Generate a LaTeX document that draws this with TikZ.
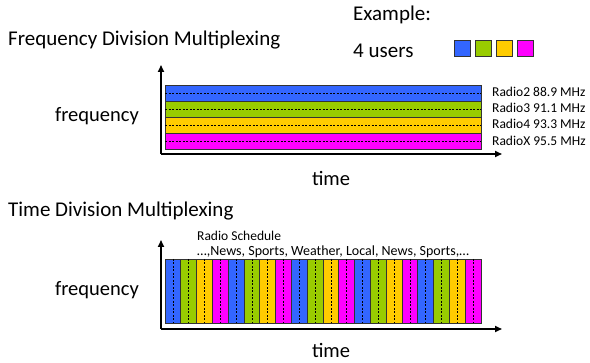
\documentclass[tikz,border=0pt]{standalone}
\usepackage{fontspec}
\setmainfont{Carlito}
\usetikzlibrary{arrows.meta,calc,positioning}
\definecolor{userblue}{RGB}{51,102,255}
\definecolor{usergreen}{RGB}{153,204,0}
\definecolor{useryellow}{RGB}{255,204,0}
\definecolor{usermagenta}{RGB}{255,0,255}
\tikzset{
  band/.style={draw=black!80,line width=0.8pt},
  midline/.style={line width=0.6pt,dash pattern=on 2pt off 1.5pt},
  axis/.style={line width=1.6pt,-{Triangle[length=7pt,width=6pt]}},
  title/.style={font=\fontsize{21}{24}\selectfont,inner sep=0pt,anchor=west},
  axlabel/.style={font=\fontsize{20.5}{23}\selectfont,inner sep=0pt},
  chan/.style={font=\fontsize{13.5}{15}\selectfont,inner sep=0pt,anchor=west},
  swatch/.style={draw=black!80,line width=0.8pt,minimum size=16pt,inner sep=0pt}
}
\begin{document}
\begin{tikzpicture}[x=1pt,y=-1pt]
  \useasboundingbox (0,0) rectangle (590,363);

  % frequency division
  \node[title] (fdm) at (8,40) {Frequency Division Multiplexing};
  \node[title] (ex) at (353,15) {Example:};
  \node[title] (users) at (353,51) {4 users};
  \foreach \c [count=\i] in {userblue,usergreen,useryellow,usermagenta}
    \node[swatch,fill=\c] (sw\i) at ({462.5+21*(\i-1)},48) {};

  \coordinate (fo) at (161,154);
  \coordinate (fy) at (161,65);
  \coordinate (fx) at (502,154);
  \draw[axis] (fo) -- (fy);
  \draw[axis] (fo) -- (fx);

  \foreach \c [count=\i] in {userblue,usergreen,useryellow,usermagenta} {
    \filldraw[band,fill=\c] (165,{85+16*(\i-1)}) rectangle ++(316,16);
    \draw[midline] (165,{93+16*(\i-1)}) -- ++(316,0);
  }
  \node[chan] (r2) at (492,92) {Radio2 88.9 MHz};
  \node[chan] (r3) at (492,108) {Radio3 91.1 MHz};
  \node[chan] (r4) at (492,124) {Radio4 93.3 MHz};
  \node[chan] (rx) at (492,141) {RadioX 95.5 MHz};

  \node[axlabel] (ffreq) at (97,116) {frequency};
  \node[axlabel] (ftime) at (331,178) {time};

  % time division
  \node[title] (tdm) at (8,211) {Time Division Multiplexing};

  \coordinate (to) at (161,329);
  \coordinate (ty) at (161,240);
  \coordinate (tx) at (502,329);
  \draw[axis] (to) -- (ty);
  \draw[axis] (to) -- (tx);

  \foreach \k in {0,...,4}
    \foreach \c [count=\j from 0] in {userblue,usergreen,useryellow,usermagenta} {
      \filldraw[band,fill=\c] ({165+15.8*(4*\k+\j)},259) rectangle ++(15.8,64);
      \draw[midline] ({172.9+15.8*(4*\k+\j)},259) -- ++(0,64);
    }
  \node[chan] (sched) at (197,236) {Radio Schedule};
  \node[chan,font=\fontsize{14}{16}\selectfont] (prog) at (197,252) {…,News, Sports, Weather, Local, News, Sports,…};

  \node[axlabel] (tfreq) at (97,290) {frequency};
  \node[axlabel] (ttime) at (331,350) {time};
\end{tikzpicture}
\end{document}
